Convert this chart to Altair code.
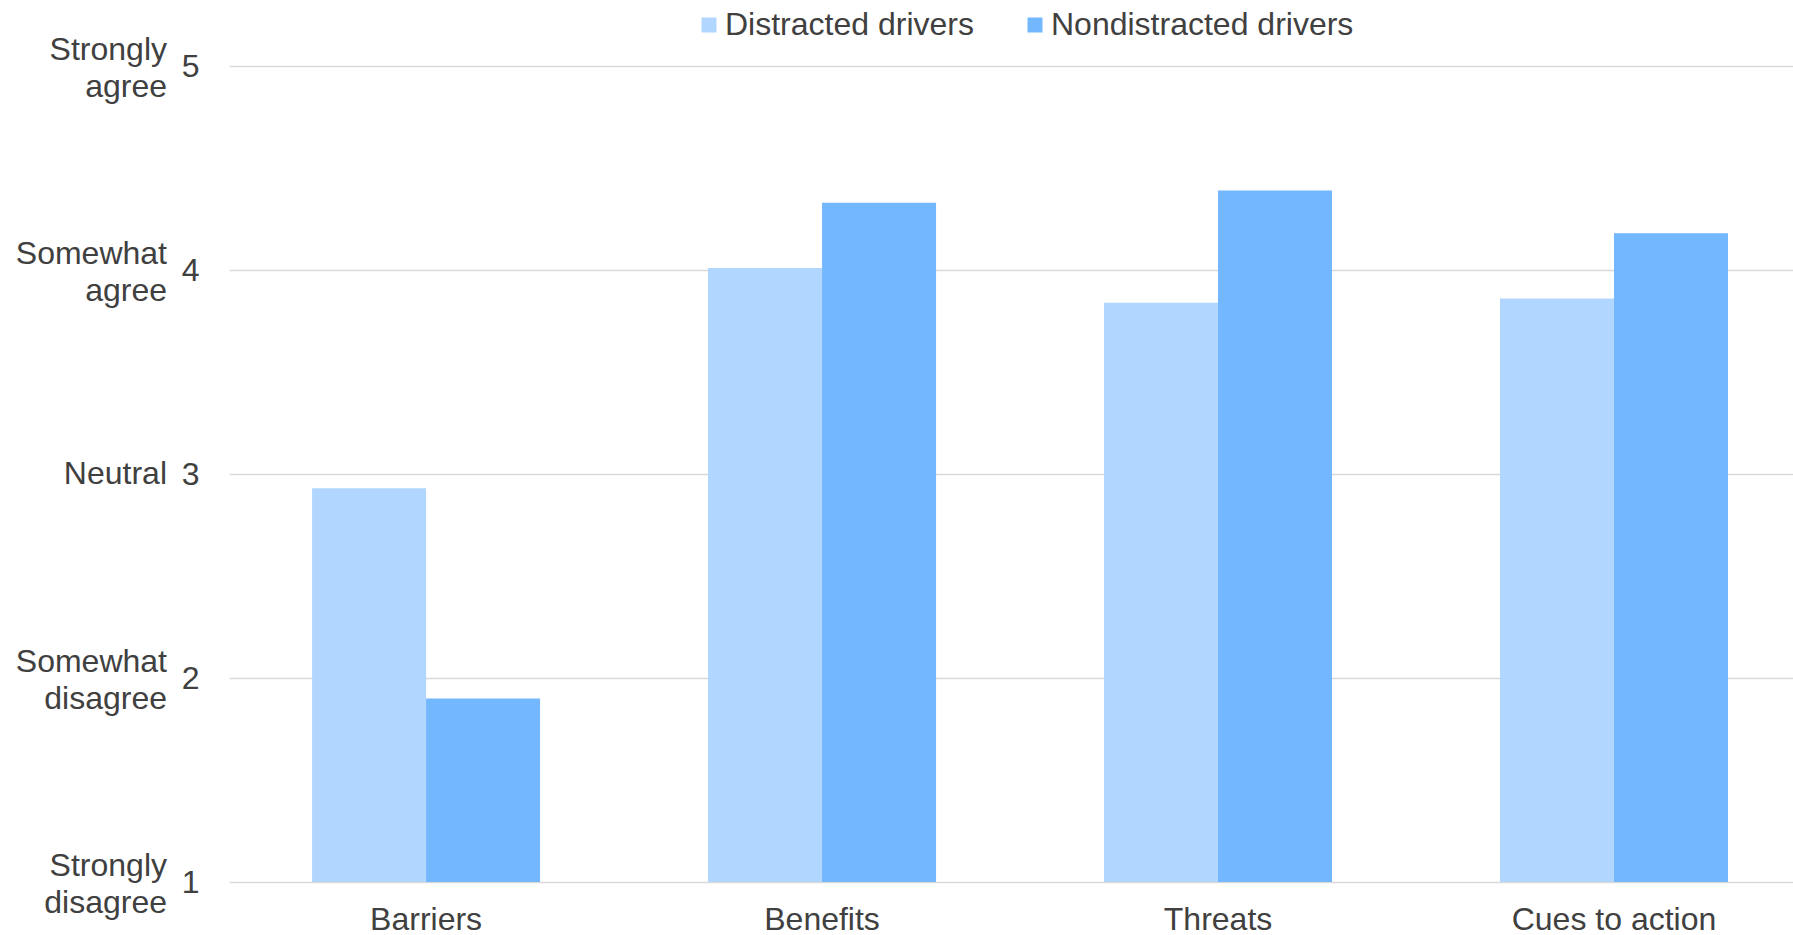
import altair as alt
import pandas as pd

categories = ["Barriers", "Benefits", "Threats", "Cues to action"]
series = ["Distracted drivers", "Nondistracted drivers"]
distracted = [2.93, 4.01, 3.84, 3.86]
nondistracted = [1.90, 4.33, 4.39, 4.18]
colors = ["#b1d6ff", "#73b7ff"]
level_values = [1, 2, 3, 4, 5]
level_labels = ["Strongly\ndisagree", "Somewhat\ndisagree", "Neutral", "Somewhat\nagree", "Strongly\nagree"]

rows = []
for c, d, n in zip(categories, distracted, nondistracted):
    rows.append({"category": c, "series": series[0], "value": d})
    rows.append({"category": c, "series": series[1], "value": n})
df = pd.DataFrame(rows)
lab = pd.DataFrame({"v": level_values, "label": level_labels})

FONT = "Liberation Sans"
TXT = "#404040"
FS = 32

yscale = alt.Scale(domain=[1, 5], nice=False, zero=False)

bars = alt.Chart(df).mark_bar().encode(
    x=alt.X("category:N", sort=categories, title=None,
            scale=alt.Scale(paddingInner=0.4242, paddingOuter=0.187, align=0.561),
            axis=alt.Axis(labelAngle=0, domain=False, ticks=False, labelPadding=22,
                          labelFontSize=FS, labelFont=FONT, labelColor=TXT, labelLimit=0)),
    xOffset=alt.XOffset("series:N", sort=series),
    y=alt.Y("value:Q", scale=yscale, title=None,
            axis=alt.Axis(values=level_values, format="d", domain=False, ticks=False, labelPadding=30,
                          labelFontSize=FS, labelFont=FONT, labelColor=TXT,
                          labelOverlap=False, grid=True, gridColor="#d9d9d9", gridWidth=1.5)),
    y2=alt.datum(1),
    color=alt.Color("series:N", sort=series, title=None,
                    scale=alt.Scale(domain=series, range=colors),
                    legend=alt.Legend(orient="none", legendX=464, legendY=-57,
                                      direction="horizontal", symbolType="square",
                                      symbolSize=225, symbolStrokeWidth=0,
                                      labelFontSize=FS, labelFont=FONT, labelColor=TXT,
                                      labelOffset=0, columnPadding=45, padding=0, labelLimit=0)),
)

text_props = dict(align="right", baseline="middle", fontSize=FS, font=FONT, color=TXT,
                  lineBreak="\n", lineHeight=37)

texts_multi = alt.Chart(lab).transform_filter(
    "indexof(datum.label, '\\n') >= 0"
).mark_text(dy=-16, **text_props).encode(
    x=alt.value(-62),
    y=alt.Y("v:Q", scale=yscale),
    text="label:N",
)

texts_single = alt.Chart(lab).transform_filter(
    "indexof(datum.label, '\\n') < 0"
).mark_text(**text_props).encode(
    x=alt.value(-62),
    y=alt.Y("v:Q", scale=yscale),
    text="label:N",
)

chart = alt.layer(bars, texts_multi, texts_single).properties(
    width=1564, height=816,
    autosize=alt.AutoSizeParams(type="none"),
    padding={"left": 229, "top": 66, "right": 0, "bottom": 53},
).configure_view(stroke=None)

chart.save("out.html", embed_options={"renderer": "svg", "actions": False})
